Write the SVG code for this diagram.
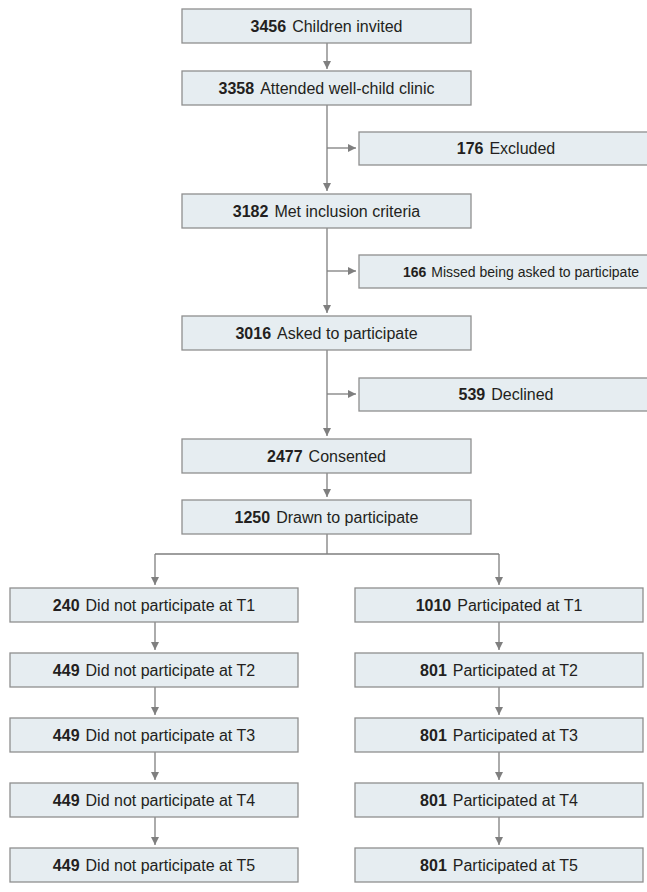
<svg xmlns="http://www.w3.org/2000/svg" width="647" height="892" viewBox="0 0 647 892">
<defs>
<marker id="ah" viewBox="0 0 8 10" refX="8" refY="5" markerWidth="8" markerHeight="10" markerUnits="userSpaceOnUse" orient="auto">
<path d="M0,1 L8,5 L0,9 z" fill="#7f7f7f"/>
</marker>
<style>
.box{fill:#e6edf1;stroke:#8f8f8f;stroke-width:1.3}
.t{font-family:"Liberation Sans","Open Sans",Arial,sans-serif;font-size:16px;fill:#231f20;text-anchor:middle}
.n{font-weight:bold}
.c{fill:none;stroke:#7f7f7f;stroke-width:1.3}
.a{marker-end:url(#ah)}
</style>
</defs>
<rect width="647" height="892" fill="#ffffff"/>
<g id="connectors">
<path class="c a" d="M327,43 V69"/>
<path class="c a" d="M327,105 V191"/>
<path class="c a" d="M327,148 H356"/>
<path class="c a" d="M327,228 V313"/>
<path class="c a" d="M327,271 H356"/>
<path class="c a" d="M327,350 V436"/>
<path class="c a" d="M327,394 H356"/>
<path class="c a" d="M327,473 V497"/>
<path class="c" d="M327,534 V554 M155,554 H499"/>
<path class="c a" d="M155,554 V585"/>
<path class="c a" d="M499,554 V585"/>
<path class="c a" d="M155,622 V650"/>
<path class="c a" d="M499,622 V650"/>
<path class="c a" d="M155,687 V715"/>
<path class="c a" d="M499,687 V715"/>
<path class="c a" d="M155,752 V780"/>
<path class="c a" d="M499,752 V780"/>
<path class="c a" d="M155,817 V845"/>
<path class="c a" d="M499,817 V845"/>
</g>
<g id="n3456"><rect class="box" x="182" y="9" width="289" height="34"/><text class="t" x="326.5" y="32"><tspan class="n">3456</tspan><tspan dx="6">Children invited</tspan></text></g>
<g id="n3358"><rect class="box" x="182" y="71" width="289" height="34"/><text class="t" x="326.5" y="94"><tspan class="n">3358</tspan><tspan dx="6">Attended well-child clinic</tspan></text></g>
<g id="n176"><rect class="box" x="359" y="132" width="292" height="33"/><text class="t" x="506" y="154"><tspan class="n">176</tspan><tspan dx="6">Excluded</tspan></text></g>
<g id="n3182"><rect class="box" x="182" y="194" width="289" height="34"/><text class="t" x="326.5" y="217"><tspan class="n">3182</tspan><tspan dx="6">Met inclusion criteria</tspan></text></g>
<g id="n166"><rect class="box" x="359" y="255" width="292" height="33"/><text class="t" x="521" y="276.5" style="font-size:14px"><tspan class="n">166</tspan><tspan dx="5">Missed being asked to participate</tspan></text></g>
<g id="n3016"><rect class="box" x="182" y="316" width="289" height="34"/><text class="t" x="326.5" y="339"><tspan class="n">3016</tspan><tspan dx="6">Asked to participate</tspan></text></g>
<g id="n539"><rect class="box" x="359" y="378" width="292" height="33"/><text class="t" x="506" y="400"><tspan class="n">539</tspan><tspan dx="6">Declined</tspan></text></g>
<g id="n2477"><rect class="box" x="182" y="439" width="289" height="34"/><text class="t" x="326.5" y="462"><tspan class="n">2477</tspan><tspan dx="6">Consented</tspan></text></g>
<g id="n1250"><rect class="box" x="182" y="500" width="289" height="34"/><text class="t" x="326.5" y="523"><tspan class="n">1250</tspan><tspan dx="6">Drawn to participate</tspan></text></g>
<g id="l1"><rect class="box" x="10" y="588" width="288" height="34"/><text class="t" x="154" y="611"><tspan class="n">240</tspan><tspan dx="6">Did not participate at T1</tspan></text></g>
<g id="r1"><rect class="box" x="355" y="588" width="288" height="34"/><text class="t" x="499" y="611"><tspan class="n">1010</tspan><tspan dx="6">Participated at T1</tspan></text></g>
<g id="l2"><rect class="box" x="10" y="653" width="288" height="34"/><text class="t" x="154" y="676"><tspan class="n">449</tspan><tspan dx="6">Did not participate at T2</tspan></text></g>
<g id="r2"><rect class="box" x="355" y="653" width="288" height="34"/><text class="t" x="499" y="676"><tspan class="n">801</tspan><tspan dx="6">Participated at T2</tspan></text></g>
<g id="l3"><rect class="box" x="10" y="718" width="288" height="34"/><text class="t" x="154" y="741"><tspan class="n">449</tspan><tspan dx="6">Did not participate at T3</tspan></text></g>
<g id="r3"><rect class="box" x="355" y="718" width="288" height="34"/><text class="t" x="499" y="741"><tspan class="n">801</tspan><tspan dx="6">Participated at T3</tspan></text></g>
<g id="l4"><rect class="box" x="10" y="783" width="288" height="34"/><text class="t" x="154" y="806"><tspan class="n">449</tspan><tspan dx="6">Did not participate at T4</tspan></text></g>
<g id="r4"><rect class="box" x="355" y="783" width="288" height="34"/><text class="t" x="499" y="806"><tspan class="n">801</tspan><tspan dx="6">Participated at T4</tspan></text></g>
<g id="l5"><rect class="box" x="10" y="848" width="288" height="34"/><text class="t" x="154" y="871"><tspan class="n">449</tspan><tspan dx="6">Did not participate at T5</tspan></text></g>
<g id="r5"><rect class="box" x="355" y="848" width="288" height="34"/><text class="t" x="499" y="871"><tspan class="n">801</tspan><tspan dx="6">Participated at T5</tspan></text></g>
</svg>
